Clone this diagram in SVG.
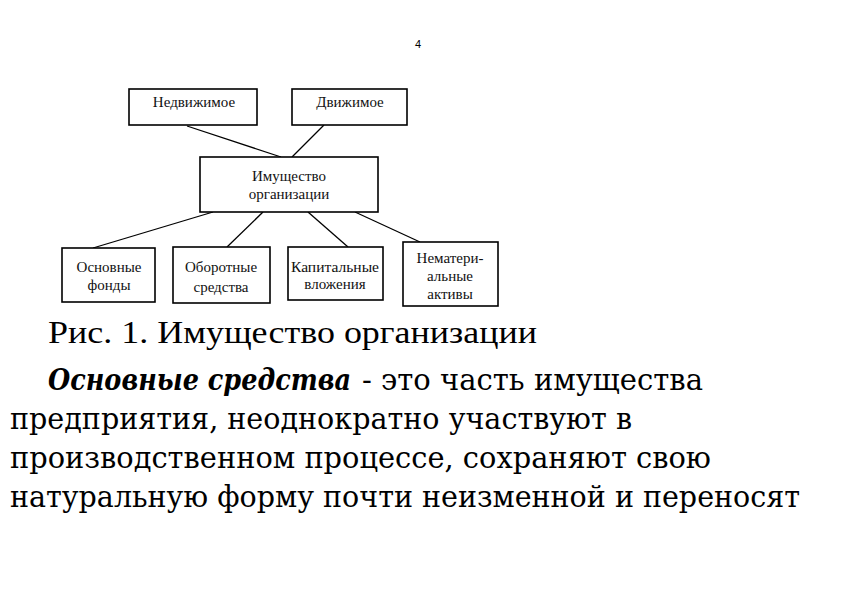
<svg xmlns="http://www.w3.org/2000/svg" width="842" height="595" viewBox="0 0 842 595">
<style>
.box{fill:#fff;stroke:#000;stroke-width:1.6}
.lbl{font-family:"Liberation Serif","Times New Roman",serif;font-size:15px;fill:#111;text-anchor:middle}
.con line{stroke:#000;stroke-width:1.3}
.cap{font-family:"Liberation Serif","Times New Roman",serif;font-size:31px;fill:#000}
.body{font-family:"DejaVu Serif","Liberation Serif",serif;font-size:29px;fill:#000}
.bi{font-weight:bold;font-style:italic}
</style>
<rect width="842" height="595" fill="#fff"/>
<text x="418" y="48" font-family="Liberation Sans, Arial, sans-serif" font-size="11" text-anchor="middle" fill="#000">4</text>
<g class="con">
<line x1="187" y1="126" x2="281" y2="157"/>
<line x1="324" y1="125" x2="292" y2="157"/>
<line x1="213" y1="212" x2="93" y2="248"/>
<line x1="263" y1="212" x2="227" y2="247"/>
<line x1="308" y1="212" x2="348" y2="247"/>
<line x1="355" y1="212" x2="420" y2="242"/>
</g>
<g id="n-nedv">
<rect class="box" x="129" y="89" width="128" height="36"/>
<text class="lbl" x="194" y="107">Недвижимое</text>
</g>
<g id="n-dvizh">
<rect class="box" x="292" y="89" width="115" height="36"/>
<text class="lbl" x="350" y="107">Движимое</text>
</g>
<g id="n-imush">
<rect class="box" x="200" y="157" width="178" height="55"/>
<text class="lbl" x="289" y="181">Имущество</text>
<text class="lbl" x="289" y="199">организации</text>
</g>
<g id="n-osn">
<rect class="box" x="62" y="248" width="93" height="54"/>
<text class="lbl" x="109" y="272">Основные</text>
<text class="lbl" x="109" y="290">фонды</text>
</g>
<g id="n-obor">
<rect class="box" x="173" y="247" width="97" height="56"/>
<text class="lbl" x="221" y="272">Оборотные</text>
<text class="lbl" x="221" y="292">средства</text>
</g>
<g id="n-kap">
<rect class="box" x="288" y="247" width="95" height="53"/>
<text class="lbl" x="335" y="272" textLength="88" lengthAdjust="spacingAndGlyphs">Капитальные</text>
<text class="lbl" x="335" y="289">вложения</text>
</g>
<g id="n-nemat">
<rect class="box" x="403" y="242" width="95" height="64"/>
<text class="lbl" x="450" y="263">Нематери-</text>
<text class="lbl" x="450" y="281">альные</text>
<text class="lbl" x="450" y="299">активы</text>
</g>
<text class="cap" x="48" y="343" textLength="489" lengthAdjust="spacingAndGlyphs">Рис. 1. Имущество организации</text>
<text class="body bi" x="48" y="390" textLength="303" lengthAdjust="spacingAndGlyphs">Основные средства</text>
<text class="body" x="362" y="390" textLength="341" lengthAdjust="spacingAndGlyphs">- это часть имущества</text>
<text class="body" x="10" y="429" textLength="622" lengthAdjust="spacingAndGlyphs">предприятия, неоднократно участвуют в</text>
<text class="body" x="10" y="468" textLength="701" lengthAdjust="spacingAndGlyphs">производственном процессе, сохраняют свою</text>
<text class="body" x="10" y="507" textLength="790" lengthAdjust="spacingAndGlyphs">натуральную форму почти неизменной и переносят</text>
</svg>
